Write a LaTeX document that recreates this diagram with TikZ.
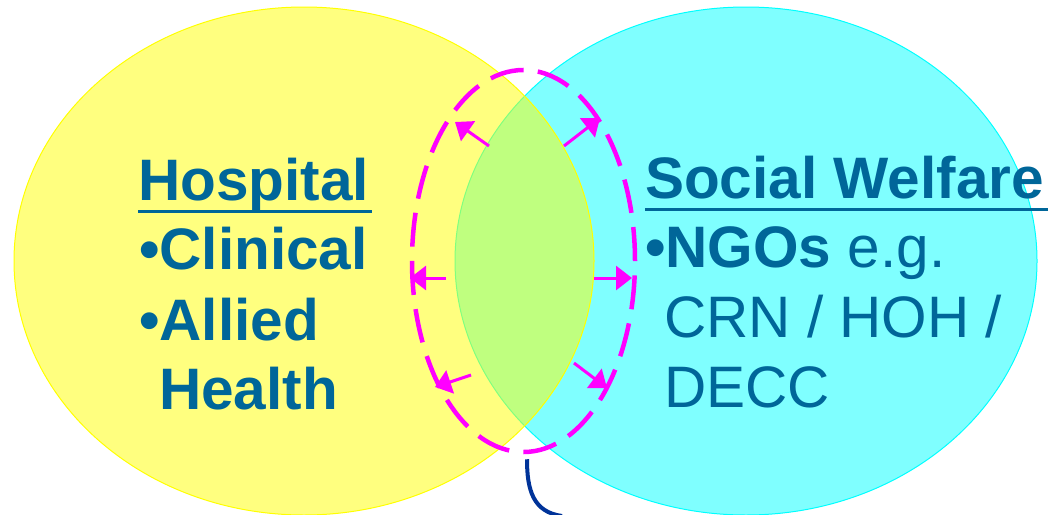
\documentclass[tikz,border=0pt]{standalone}
\usepackage{fontspec}
\setmainfont{Liberation Sans}
\usetikzlibrary{arrows.meta,shapes.geometric}
\definecolor{txtblue}{RGB}{0,102,153}
\definecolor{hubpink}{RGB}{255,0,255}
\definecolor{leadblue}{RGB}{0,51,153}
\definecolor{hospyellow}{RGB}{255,255,0}
\definecolor{welfcyan}{RGB}{0,255,255}

\begin{document}
\begin{tikzpicture}[x=1pt,y=-1pt,
  field/.style={ellipse,inner sep=0pt,fill opacity=0.5,line width=1pt},
  txt/.style={anchor=base west,inner sep=0pt,text=txtblue,font=\fontsize{58.5}{70}\selectfont},
  heading/.style={txt,font=\fontsize{58.5}{70}\selectfont\bfseries,text depth=0pt,inner ysep=11pt},
  underrule/.style={draw=txtblue,line width=3pt},
  push/.style={draw=hubpink,line width=3pt,-{Triangle[length=16pt,width=24pt]}},
  lead/.style={draw=leadblue,line width=4pt}]
\useasboundingbox (0,0) rectangle (1049,514);
% the two circles of care
\node[field,fill=welfcyan,draw=welfcyan,minimum width=582pt,minimum height=508pt] (welf) at (746,261) {};
\node[field,fill=hospyellow,draw=hospyellow,minimum width=580pt,minimum height=508pt] (hosp) at (304,261) {};
\node[ellipse,inner sep=0pt,draw=hubpink,line width=4.5pt,dash pattern=on 34pt off 14.34pt,
  minimum width=223pt,minimum height=382pt] (zone) at (523.5,261) {};
% left side
\node[heading] (htitle) at (138,200) {Hospital};
\draw[underrule] (htitle.south west) -- ([xshift=3pt]htitle.south east);
\node[txt,font=\fontsize{58.5}{70}\selectfont\bfseries] (clin) at (139,269) {•Clinical};
\node[txt,font=\fontsize{58.5}{70}\selectfont\bfseries] (alli) at (139,340) {•Allied};
\node[txt,font=\fontsize{58.5}{70}\selectfont\bfseries] (heal) at (159,409) {Health};
% right side
\node[heading] (wtitle) at (645,198) {Social Welfare};
\draw[underrule] (wtitle.south west) -- ([xshift=4pt]wtitle.south east);
\node[txt] (ngos) at (645,267) {\textbf{•NGOs} e.g.};
\node[txt] (crn) at (664,337) {CRN / HOH /};
\node[txt] (decc) at (664,407) {DECC};
% arrows out of the overlap
\coordinate (s1) at (489,146); \coordinate (t1) at (455,122);
\coordinate (s2) at (564,146); \coordinate (t2) at (600,118);
\coordinate (s3) at (446,278); \coordinate (t3) at (410,278);
\coordinate (s4) at (594,278); \coordinate (t4) at (632,278);
\coordinate (s5) at (471,375); \coordinate (t5) at (435,387);
\coordinate (s6) at (574,363); \coordinate (t6) at (607,388);
\draw[push] (s1) -- (t1);
\draw[push] (s2) -- (t2);
\draw[push] (s3) -- (t3);
\draw[push] (s4) -- (t4);
\draw[push] (s5) -- (t5);
\draw[push] (s6) -- (t6);
% callout line
\coordinate (tail) at (562,516);
\draw[lead] ([xshift=3.5pt,yshift=-5pt]zone.south) .. controls (527,490) and (533,512) .. (tail);
\end{tikzpicture}
\end{document}
